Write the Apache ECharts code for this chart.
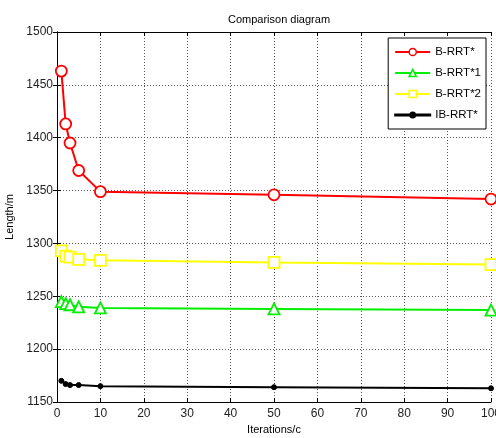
<!DOCTYPE html>
<html>
<head>
<meta charset="utf-8">
<script src="https://cdn.jsdelivr.net/npm/echarts@6/dist/echarts.min.js"></script>
<style>
  html, body { margin: 0; padding: 0; background: #fff; }
  #chart { width: 496px; height: 438px; }
</style>
</head>
<body>
<div id="chart"></div>
<script>
// iterations on x axis
var iterations = [1, 2, 3, 5, 10, 50, 100];
var bRRT  = [1463, 1413, 1395, 1369, 1349, 1346, 1342];
var bRRT1 = [1245, 1243, 1242, 1240, 1239, 1238, 1237];
var bRRT2 = [1293, 1288, 1287, 1285, 1284, 1282, 1280];
var ibRRT = [1170, 1167, 1166, 1166, 1165, 1164, 1163];
var seriesNames = ['B-RRT*', 'B-RRT*1', 'B-RRT*2', 'IB-RRT*'];

function pairs(vals) {
  var out = [];
  for (var i = 0; i < iterations.length; i++) out.push([iterations[i], vals[i]]);
  return out;
}

var chart = echarts.init(document.getElementById('chart'));
var font = 'Liberation Sans, Arial, sans-serif';

function mkSeries(name, vals, color, symbol, size, filled) {
  return {
    name: name,
    type: 'line',
    data: pairs(vals),
    symbol: symbol,
    symbolSize: size,
    showAllSymbol: true,
    lineStyle: { color: color, width: 2 },
    itemStyle: { color: filled ? color : '#fff', borderColor: color, borderWidth: filled ? 1 : 1.8 },
    emphasis: { disabled: true },
    animation: false
  };
}

var plain = function (v) { return String(v); };

chart.setOption({
  animation: false,
  title: {
    text: 'Comparison diagram',
    left: 274, top: 9,
    textAlign: 'center',
    textStyle: { fontFamily: font, fontSize: 11, fontWeight: 'normal', color: '#000' }
  },
  legend: {
    data: [
      { name: seriesNames[0], itemStyle: { borderWidth: 1.5 } },
      { name: seriesNames[1], itemStyle: { borderWidth: 1.5 } },
      { name: seriesNames[2], itemStyle: { borderWidth: 1.5 } },
      { name: seriesNames[3], icon: 'path://M0,4.5L35,4.5L35,5.5L0,5.5Z M15,5A2.5,2.5,0,1,0,20,5A2.5,2.5,0,1,0,15,5Z' }
    ],
    orient: 'vertical',
    right: 10, top: 38,
    backgroundColor: '#fff',
    borderColor: '#000',
    borderWidth: 1,
    borderRadius: 0,
    padding: [8, 5, 8, 6],
    itemGap: 9,
    itemWidth: 35,
    itemHeight: 9,
    textStyle: { fontFamily: font, fontSize: 11.5, color: '#000' }
  },
  grid: { left: 57, right: 5, top: 32, bottom: 36, outerBoundsMode: 'none', containLabel: false },
  xAxis: [{
    type: 'value', min: 0, max: 100, interval: 10,
    name: 'Iterations/c', nameLocation: 'middle', nameGap: 20,
    nameTextStyle: { fontFamily: font, fontSize: 11, color: '#000' },
    axisLine: { show: true, lineStyle: { color: '#000', width: 1 } },
    axisTick: { show: true, inside: true, length: 4, lineStyle: { color: '#000' } },
    axisLabel: { fontFamily: font, fontSize: 12, color: '#222', margin: 6, formatter: plain },
    splitLine: { show: true, lineStyle: { color: '#555', type: [1, 2], width: 1 } }
  }, {
    type: 'value', min: 0, max: 100, interval: 10, position: 'top',
    axisLine: { show: true, lineStyle: { color: '#000', width: 1 } },
    axisTick: { show: true, inside: true, length: 4, lineStyle: { color: '#000' } },
    axisLabel: { show: false }, splitLine: { show: false }
  }],
  yAxis: [{
    type: 'value', min: 1150, max: 1500, interval: 50,
    name: 'Length/m', nameLocation: 'middle', nameGap: 36,
    nameTextStyle: { fontFamily: font, fontSize: 11, color: '#000' },
    axisLine: { show: true, lineStyle: { color: '#000', width: 1 } },
    axisTick: { show: true, inside: true, length: 4, lineStyle: { color: '#000' } },
    axisLabel: { fontFamily: font, fontSize: 12, color: '#222', margin: 4, formatter: plain },
    splitLine: { show: true, lineStyle: { color: '#555', type: [1, 2], width: 1 } }
  }, {
    type: 'value', min: 1150, max: 1500, interval: 50, position: 'right',
    axisLine: { show: true, lineStyle: { color: '#000', width: 1 } },
    axisTick: { show: true, inside: true, length: 4, lineStyle: { color: '#000' } },
    axisLabel: { show: false }, splitLine: { show: false }
  }],
  series: [
    mkSeries(seriesNames[0], bRRT, '#ff0000', 'circle', 11, false),
    mkSeries(seriesNames[1], bRRT1, '#00ee00', 'triangle', 11, false),
    mkSeries(seriesNames[2], bRRT2, '#ffff00', 'rect', 11, false),
    mkSeries(seriesNames[3], ibRRT, '#000000', 'circle', 5, true)
  ]
});
</script>
</body>
</html>
